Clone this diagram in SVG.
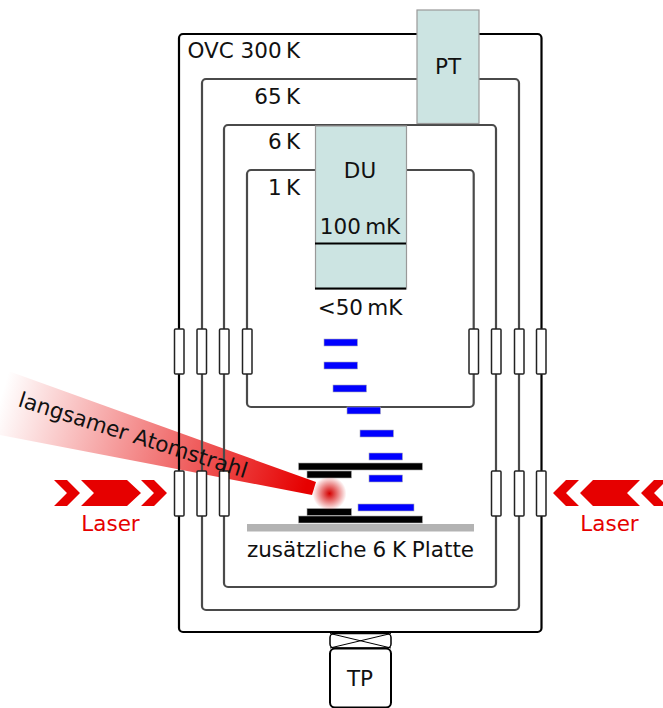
<svg xmlns="http://www.w3.org/2000/svg" width="663" height="708" viewBox="0 0 663 708">
<style>
text{font-family:"DejaVu Sans","Noto Sans",sans-serif;font-size:21.500px;fill:#111}
.m{text-anchor:middle}.e{text-anchor:end}
.u{word-spacing:-2.500px}
.s{fill:none;stroke-width:2.2}
.k{stroke:#000}.d{stroke:#4a4a4a}
.w{fill:#fff;stroke-width:1.5;stroke:#222}
.c{fill:#cce4e2;stroke:#999;stroke-width:1.2}
.b{fill:#00f;stroke:#aab;stroke-width:.6}
.p{fill:#000;stroke:#aaa;stroke-width:.6}
.r{fill:#e60000}
text.l{fill:#e60000}
</style>
<defs>
<linearGradient id="beam" gradientUnits="userSpaceOnUse" x1="0" y1="400" x2="305" y2="490"><stop offset="0" stop-color="#e60000" stop-opacity="0"/><stop offset="1" stop-color="#e60000"/></linearGradient>
<radialGradient id="ball"><stop offset="0" stop-color="#d40000"/><stop offset="1" stop-color="#d40000" stop-opacity="0"/></radialGradient>
</defs>
<polygon id="atomstrahl" points="0,368 316,482 312,495 0,435" fill="url(#beam)"/>
<g id="connectors">
<rect class="s k" x="179" y="34" width="362.500" height="598" rx="4"/>
<rect class="s d" x="202" y="79" width="317" height="531" rx="4"/>
<rect class="s d" x="224" y="125" width="272" height="462" rx="4"/>
<rect class="s d" x="247" y="170" width="226.700" height="237" rx="4"/>
</g>
<g id="fenster">
<rect class="w" x="174.500" y="329" width="9.500" height="45" rx="1"/><rect class="w" x="197" y="329" width="9.500" height="45" rx="1"/><rect class="w" x="219.500" y="329" width="9.500" height="45" rx="1"/><rect class="w" x="242.500" y="329" width="9.500" height="45" rx="1"/>
<rect class="w" x="469" y="329" width="9.500" height="45" rx="1"/><rect class="w" x="491.500" y="329" width="9.500" height="45" rx="1"/><rect class="w" x="514.500" y="329" width="9.500" height="45" rx="1"/><rect class="w" x="536.500" y="329" width="9.500" height="45" rx="1"/>
<rect class="w" x="174.500" y="471" width="9.500" height="45" rx="1"/><rect class="w" x="197" y="471" width="9.500" height="45" rx="1"/><rect class="w" x="219.500" y="471" width="9.500" height="45" rx="1"/>
<rect class="w" x="491.500" y="471" width="9.500" height="45" rx="1"/><rect class="w" x="514.500" y="471" width="9.500" height="45" rx="1"/><rect class="w" x="536.500" y="471" width="9.500" height="45" rx="1"/>
</g>
<g id="PT"><rect class="c" x="417" y="10" width="62" height="113.500"/><text class="m" x="448" y="74">PT</text></g>
<g id="DU"><rect class="c" x="315.500" y="126" width="91" height="163"/>
<path d="M315 243.500H406M315 288.500H406" stroke="#000" stroke-width="2.200" fill="none"/>
<text class="m" x="360" y="178">DU</text><text class="m u" x="360" y="234">100 mK</text></g>
<text class="m u" x="360" y="315">&lt;50 mK</text>
<text x="187.500" y="58">OVC <tspan class="u">300 K</tspan></text>
<text class="e u" x="300" y="104">65 K</text>
<text class="e u" x="300" y="149">6 K</text>
<text class="e u" x="300" y="195">1 K</text>
<g id="ionenlinse">
<rect class="b" x="324" y="339" width="33.500" height="7"/><rect class="b" x="324" y="362" width="33.500" height="7"/><rect class="b" x="333" y="385" width="33.500" height="7"/><rect class="b" x="347" y="407" width="33.500" height="7"/><rect class="b" x="360" y="430" width="33.500" height="7"/><rect class="b" x="369" y="453" width="33.500" height="7"/><rect class="b" x="369" y="475" width="33.500" height="7"/><rect class="b" x="358" y="504" width="56" height="7"/>
</g>
<g id="falle">
<rect class="p" x="298.500" y="463" width="124" height="7"/><rect class="p" x="307" y="471" width="44.500" height="7"/><rect class="p" x="307" y="508.500" width="44.500" height="7"/><rect class="p" x="298.500" y="516" width="124" height="7"/>
<rect x="247" y="524" width="227" height="7.500" fill="#b3b3b3"/>
<circle cx="329.500" cy="493.500" r="17" fill="url(#ball)"/>
</g>
<g id="laser-links">
<polygon class="r" points="54,480 67,480 80,493 67,506 54,506 67,493"/><polygon class="r" points="81,480 127,480 141,493 127,506 81,506 94,493"/><polygon class="r" points="141,480 154,480 167,493 154,506 141,506 154,493"/>
<text class="m l" x="110.500" y="531">Laser</text></g>
<g id="laser-rechts">
<polygon class="r" points="579,480 566,480 553,493 566,506 579,506 566,493"/><polygon class="r" points="640,480 593,480 580,493 593,506 640,506 627,493"/><polygon class="r" points="667,480 654,480 641,493 654,506 667,506 654,493"/>
<text class="m l" x="609.500" y="531">Laser</text></g>
<text class="m" x="360.500" y="557" style="word-spacing:-1px">zusätzliche 6 K Platte</text>
<text transform="translate(17 406) rotate(17.600)">langsamer Atomstrahl</text>
<g id="TP">
<rect x="330" y="633.500" width="61" height="14.500" rx="4" fill="#fff" stroke="#000" stroke-width="1.500"/>
<path d="M330 633.500L391 648M330 648L391 633.500" stroke="#000" stroke-width="1" fill="none"/>
<rect x="330" y="648.500" width="61" height="59" rx="5" fill="#fff" stroke="#000" stroke-width="2"/>
<text class="m" x="360" y="686">TP</text></g>
</svg>
